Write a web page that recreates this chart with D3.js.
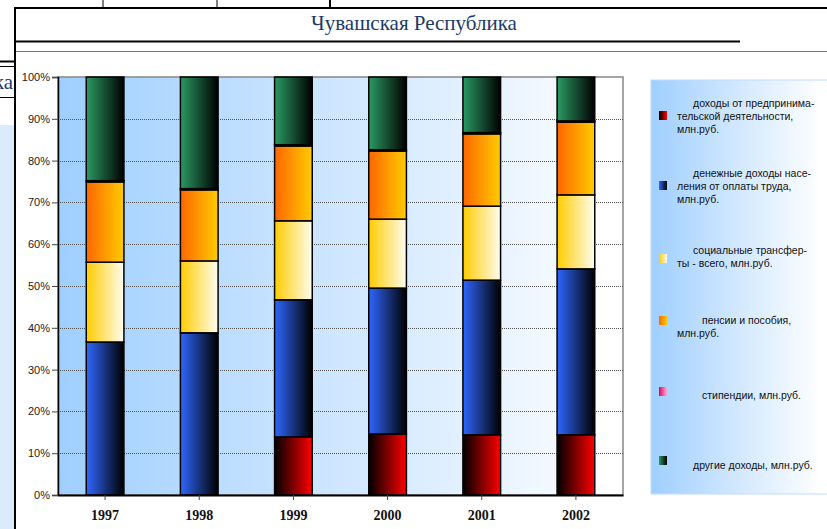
<!DOCTYPE html>
<html lang="ru">
<head>
    <meta charset="UTF-8">
    <script src="https://cdnjs.cloudflare.com/ajax/libs/d3/7.8.5/d3.min.js"></script>
    <title>Чувашская Республика</title>
    <style>
        body { margin: 0; background: #fff; }
        svg { display: block; }
    </style>
</head>
<body>
    <div id="chart"></div>
    <script>
        // Data (share of each income source, %)
        const years = ["1997", "1998", "1999", "2000", "2001", "2002"];
        const entrepreneurial = [0, 0, 13.9, 14.6, 14.4, 14.4];
        const wages = [36.6, 38.8, 32.8, 34.9, 37.0, 39.7];
        const socialTransfers = [19.1, 17.2, 18.9, 16.5, 17.7, 17.7];
        const pensions = [19.2, 17.0, 17.9, 16.3, 17.3, 17.4];
        const stipends = [0.3, 0.3, 0.3, 0.3, 0.3, 0.3];
        const otherIncome = [24.8, 26.7, 16.2, 17.4, 13.3, 10.5];

        const seriesKeys = ["entr", "wages", "social", "pens", "stip", "other"];
        const legendLines = [
            ["доходы от предпринима-", "тельской деятельности,", "млн.руб."],
            ["денежные доходы насе-", "ления от оплаты труда,", "млн.руб."],
            ["социальные трансфер-", "ты - всего, млн.руб."],
            ["пенсии и пособия,", "млн.руб."],
            ["стипендии, млн.руб."],
            ["другие доходы, млн.руб."]
        ];
        const yTicks = [0, 0.1, 0.2, 0.3, 0.4, 0.5, 0.6, 0.7, 0.8, 0.9, 1];

        const table = years.map((y, i) => ({
            year: y,
            entr: entrepreneurial[i],
            wages: wages[i],
            social: socialTransfers[i],
            pens: pensions[i],
            stip: stipends[i],
            other: otherIncome[i]
        }));

        // Gradient stops for each series (left -> right)
        const gradColors = {
            entr: ["#000000", "#ff0000"],
            wages: ["#2f66ff", "#000000"],
            social: ["#ffcc00", "#fffdf0"],
            pens: ["#ff6600", "#ffcc00"],
            stip: ["#e0006a", "#ffb0d0"],
            other: ["#2a9a62", "#000000"]
        };

        const width = 827, height = 529;
        const svg = d3.select("#chart").append("svg")
            .attr("width", width)
            .attr("height", height);

        const defs = svg.append("defs");
        seriesKeys.forEach(k => {
            const g = defs.append("linearGradient").attr("id", "g-" + k)
                .attr("x1", "0%").attr("x2", "100%").attr("y1", "0%").attr("y2", "0%");
            g.append("stop").attr("offset", "0%").attr("stop-color", gradColors[k][0]);
            g.append("stop").attr("offset", "100%").attr("stop-color", gradColors[k][1]);
        });

        const plotBg = defs.append("linearGradient").attr("id", "plotBg")
            .attr("x1", "0%").attr("x2", "100%");
        [["0%", "#9fcfff"], ["35%", "#c2e0ff"], ["65%", "#dcedff"], ["88%", "#f3f9ff"], ["93%", "#ffffff"], ["100%", "#ffffff"]]
            .forEach(s => plotBg.append("stop").attr("offset", s[0]).attr("stop-color", s[1]));

        const legBg = defs.append("linearGradient").attr("id", "legBg")
            .attr("x1", "0%").attr("x2", "100%");
        [["0%", "#9fcfff"], ["50%", "#d4e9ff"], ["95%", "#ffffff"]]
            .forEach(s => legBg.append("stop").attr("offset", s[0]).attr("stop-color", s[1]));

        // Spreadsheet frame around the chart
        const frame = svg.append("g");
        frame.append("rect").attr("x", 0).attr("y", 125).attr("width", 14).attr("height", 404).attr("fill", "#dcebfb");
        [103, 217].forEach(x => frame.append("line").attr("x1", x).attr("x2", x).attr("y1", 0).attr("y2", 8)
            .attr("stroke", "#000").attr("stroke-width", 1));
        frame.append("line").attr("x1", 330).attr("x2", 330).attr("y1", 0).attr("y2", 8)
            .attr("stroke", "#000").attr("stroke-width", 2);
        frame.append("line").attr("x1", 14).attr("x2", width).attr("y1", 8).attr("y2", 8)
            .attr("stroke", "#000").attr("stroke-width", 2);
        frame.append("line").attr("x1", 15).attr("x2", 15).attr("y1", 7).attr("y2", height)
            .attr("stroke", "#000").attr("stroke-width", 2);
        frame.append("line").attr("x1", 0).attr("x2", 15).attr("y1", 61.5).attr("y2", 61.5)
            .attr("stroke", "#000").attr("stroke-width", 2);
        frame.append("line").attr("x1", 0).attr("x2", 15).attr("y1", 66.5).attr("y2", 66.5)
            .attr("stroke", "#000").attr("stroke-width", 1);
        frame.append("line").attr("x1", 0).attr("x2", 15).attr("y1", 97.5).attr("y2", 97.5)
            .attr("stroke", "#000").attr("stroke-width", 1);
        frame.append("text").attr("x", 13).attr("y", 89).attr("text-anchor", "end")
            .style("font-family", "'Liberation Serif', serif").style("font-size", "21px").attr("fill", "#1b3a6b")
            .text("ка");
        frame.append("rect").attr("x", 16).attr("y", 9).attr("width", width - 16).attr("height", 520).attr("fill", "#fff");

        // Title
        svg.append("text").attr("x", 414).attr("y", 30).attr("text-anchor", "middle")
            .style("font-family", "'Liberation Serif', serif").style("font-size", "21px").attr("fill", "#1b3a6b")
            .text("Чувашская Республика");
        svg.append("line").attr("x1", 16).attr("x2", 740).attr("y1", 41.5).attr("y2", 41.5)
            .attr("stroke", "#000").attr("stroke-width", 2);
        svg.append("line").attr("x1", 16).attr("x2", width).attr("y1", 51.5).attr("y2", 51.5)
            .attr("stroke", "#777").attr("stroke-width", 1);

        // Plot
        const plot = { left: 58, right: 623, top: 77, bottom: 495 };
        const x = d3.scaleBand().domain(years).range([plot.left, plot.right])
            .paddingInner(0.6).paddingOuter(0.3);
        const y = d3.scaleLinear().domain([0, 1]).range([plot.bottom, plot.top]);

        svg.append("rect").attr("x", plot.left).attr("y", plot.top)
            .attr("width", plot.right - plot.left).attr("height", plot.bottom - plot.top)
            .attr("fill", "url(#plotBg)").attr("stroke", "#888").attr("stroke-width", 1.5);

        svg.append("g").selectAll("line")
            .data(yTicks.filter(t => t > 0 && t < 1))
            .join("line")
            .attr("x1", plot.left).attr("x2", plot.right)
            .attr("y1", d => Math.round(y(d)) + 0.5).attr("y2", d => Math.round(y(d)) + 0.5)
            .attr("stroke", "#555").attr("stroke-dasharray", "1,1");

        const stacked = d3.stack().keys(seriesKeys).offset(d3.stackOffsetExpand)(table);

        svg.append("g").selectAll("g")
            .data(stacked)
            .join("g")
            .attr("fill", d => "url(#g-" + d.key + ")")
            .selectAll("rect")
            .data(d => d.filter(p => p[1] - p[0] > 0))
            .join("rect")
            .attr("x", d => x(d.data.year))
            .attr("width", x.bandwidth())
            .attr("y", d => y(d[1]))
            .attr("height", d => y(d[0]) - y(d[1]))
            .attr("stroke", "#000").attr("stroke-width", 1.5);

        // Axes
        const yAxis = svg.append("g").attr("transform", `translate(${plot.left},0)`)
            .call(d3.axisLeft(y).tickValues(yTicks).tickFormat(d3.format(".0%")).tickSize(6).tickPadding(2));
        yAxis.select(".domain").attr("stroke", "#000").attr("stroke-width", 1.5);
        yAxis.selectAll(".tick line").attr("stroke", "#444");
        yAxis.selectAll(".tick text").style("font-family", "'Liberation Sans', Arial, sans-serif")
            .style("font-size", "11px").attr("fill", "#222");

        const xAxis = svg.append("g").attr("transform", `translate(0,${plot.bottom})`)
            .call(d3.axisBottom(x).tickSize(5).tickSizeOuter(0).tickPadding(10));
        xAxis.select(".domain").attr("stroke", "#000").attr("stroke-width", 2);
        xAxis.selectAll(".tick line").attr("stroke", "#444");
        xAxis.selectAll(".tick text").style("font-family", "'Liberation Serif', serif")
            .style("font-size", "14px").style("font-weight", "bold").attr("fill", "#111");

        // Legend
        const legend = svg.append("g");
        legend.append("rect").attr("x", 651).attr("y", 80).attr("width", 180).attr("height", 414)
            .attr("fill", "url(#legBg)").attr("stroke", "#bfdcff");
        const itemTop = [107, 177, 254, 324, 399, 469];
        const markerY = [111, 181, 254, 316, 387, 456];
        const firstX = [693, 693, 693, 702, 702, 693];
        seriesKeys.forEach((k, i) => {
            legend.append("rect").attr("x", 659).attr("y", markerY[i]).attr("width", 8).attr("height", 9)
                .attr("fill", "url(#g-" + k + ")");
            const t = legend.append("text").style("font-family", "'Liberation Sans', Arial, sans-serif")
                .style("font-size", "10.5px").attr("fill", "#111");
            legendLines[i].forEach((line, j) => {
                t.append("tspan").attr("x", j === 0 ? firstX[i] : 677).attr("y", itemTop[i] + j * 13).text(line);
            });
        });
    </script>
</body>
</html>
